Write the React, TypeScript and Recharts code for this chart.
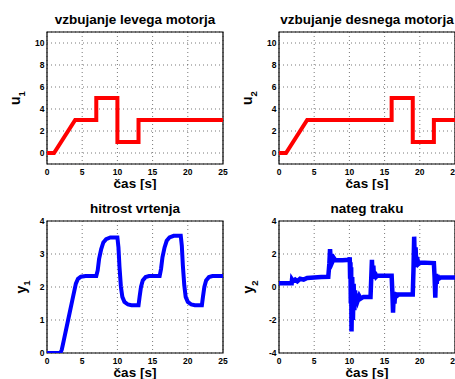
import { LineChart, Line, XAxis, YAxis, CartesianGrid, ReferenceArea } from 'recharts';

// Input u1 (left motor)
const u1Time = [0, 1, 4, 7, 7, 10, 10, 13, 13, 25];
const u1Val = [0, 0, 3, 3, 5, 5, 1, 1, 3, 3];

// Input u2 (right motor)
const u2Time = [0, 1, 4, 16, 16, 19, 19, 22, 22, 25];
const u2Val = [0, 0, 3, 3, 5, 5, 1, 1, 3, 3];

// Output y1 (rotation speed)
const y1Time = [
  0, 1.9, 2.1, 2.4, 3.0, 3.6, 4.1, 4.4, 4.8, 5.5, 7.0, 7.2, 7.4, 7.7, 8.0, 8.4, 9.0, 10.0,
  10.15, 10.3, 10.5, 10.7, 11.0, 11.5, 12.0, 13.0, 13.15, 13.35, 13.6, 14.0, 14.5, 16.0,
  16.2, 16.4, 16.7, 17.0, 17.4, 18.0, 19.0, 19.15, 19.3, 19.5, 19.7, 20.0, 20.5, 21.0,
  22.0, 22.15, 22.35, 22.6, 23.0, 23.5, 25.0,
];
const y1Val = [
  0, 0, 0.1, 0.4, 1.0, 1.6, 2.1, 2.25, 2.31, 2.33, 2.33, 2.5, 2.85, 3.15, 3.35, 3.45, 3.5, 3.5,
  3.2, 2.6, 2.0, 1.7, 1.55, 1.47, 1.45, 1.45, 1.7, 2.0, 2.2, 2.3, 2.33, 2.33,
  2.55, 2.9, 3.2, 3.4, 3.5, 3.55, 3.55, 3.25, 2.65, 2.05, 1.7, 1.55, 1.47, 1.45,
  1.45, 1.7, 2.0, 2.2, 2.3, 2.33, 2.33,
];

// Output y2 (belt tension)
const y2Time = [
  0, 1.8, 1.85, 2.0, 2.3, 2.6, 3.0, 3.5, 4.0, 5.0, 6.0, 7.0, 7.15, 7.25, 7.35, 7.45, 7.6, 7.8, 8.0,
  9.0, 10.0, 10.05, 10.1, 10.15, 10.2, 10.25, 10.3, 10.4, 10.5, 10.6, 10.7, 10.8, 10.9, 11.0,
  11.2, 11.4, 11.6, 12.0, 13.0, 13.1, 13.2, 13.3, 13.4, 13.5, 13.6, 13.8, 14.0, 15.0, 16.0,
  16.1, 16.2, 16.3, 16.4, 16.5, 16.7, 17.0, 19.0, 19.1, 19.2, 19.3, 19.4, 19.5, 19.6, 19.8,
  20.0, 22.0, 22.1, 22.2, 22.3, 22.4, 22.5, 22.7, 23.0, 25.0,
];
const y2Val = [
  0.23, 0.23, 0.45, 0.35, 0.45, 0.35, 0.5, 0.45, 0.55, 0.58, 0.6, 0.62, 1.4, 2.3, 1.6, 2.0, 1.55, 1.75, 1.62,
  1.62, 1.65, 1.8, 0.5, 1.5, -1.0, 1.2, -2.7, 0.6, -2.0, 0.2, -1.4, -0.2, -1.0, -0.4,
  -0.8, -0.55, -0.7, -0.6, -0.6, 0.5, 1.65, 0.6, 1.3, 0.5, 0.9, 0.62, 0.7, 0.68, 0.68,
  -0.3, -1.55, -0.3, -1.0, -0.35, -0.55, -0.45, -0.45, 1.0, 3.05, 1.2, 2.4, 1.3, 1.8, 1.4,
  1.48, 1.45, 0.6, -0.65, 0.8, 0.2, 0.7, 0.5, 0.58, 0.58,
];

const xTicks = [0, 5, 10, 15, 20, 25];
const uTicks = [0, 2, 4, 6, 8, 10];
const y1Ticks = [0, 1, 2, 3, 4];
const y2Ticks = [-4, -2, 0, 2, 4];

const zip = (t: number[], v: number[]) => t.map((x, i) => ({ t: x, v: v[i] }));

const FONT = '"Liberation Sans", Arial, Helvetica, sans-serif';
const tickStyle = { fontSize: 8.5, fontWeight: 700, fill: '#000', fontFamily: FONT };

type PanelProps = {
  left: number;
  top: number;
  title: string;
  sym: string;
  sub: string;
  data: { t: number; v: number }[];
  color: string;
  width: number;
  domain: [number, number];
  ticks: number[];
  labelGap: number;
};

const Panel = ({ left, top, title, sym, sub, data, color, width, domain, ticks, labelGap }: PanelProps) => {
  const titleContent = (props: any) => {
    const vb = props.viewBox;
    return (
      <text x={vb.x + vb.width / 2} y={vb.y - 8.5} textAnchor="middle"
        style={{ fontSize: 13.5, fontWeight: 700, fontFamily: FONT, fill: '#000' }}>
        {title}
      </text>
    );
  };
  const xLabel = (props: any) => {
    const vb = props.viewBox;
    return (
      <text x={vb.x + vb.width / 2} y={vb.y + 24} textAnchor="middle"
        style={{ fontSize: 13.5, fontWeight: 700, fontFamily: FONT, fill: '#000' }}>
        čas [s]
      </text>
    );
  };
  const yLabel = (props: any) => {
    const vb = props.viewBox;
    const x = vb.x + vb.width - labelGap;
    const y = vb.y + vb.height / 2;
    return (
      <text transform={`translate(${x},${y}) rotate(-90)`} textAnchor="middle"
        style={{ fontSize: 14, fontWeight: 700, fontFamily: FONT, fill: '#000' }}>
        {sym}
        <tspan dy={4.5} style={{ fontSize: 9.5 }}>{sub}</tspan>
      </text>
    );
  };

  return (
    <div style={{ position: 'absolute', left, top }}>
      <LineChart width={230} height={190} data={data}
        margin={{ top: 32, right: 230 - 47 - 176, left: 0, bottom: 0 }}>
        <CartesianGrid stroke="#555" strokeDasharray="1 3" strokeWidth={0.8} />
        <XAxis dataKey="t" type="number" domain={[0, 25]} ticks={xTicks} height={26}
          axisLine={false} tickLine={false} tickSize={0} tickMargin={5}
          tick={tickStyle} interval={0} label={{ content: xLabel }} />
        <YAxis type="number" domain={domain} ticks={ticks} width={47} allowDataOverflow
          axisLine={false} tickLine={false} tickSize={0} tickMargin={2.5}
          tick={tickStyle} interval={0} label={{ content: yLabel }} />
        <ReferenceArea x1={0} x2={25} y1={domain[0]} y2={domain[1]} fill="none"
          stroke="#000" strokeWidth={1.2} fillOpacity={0} label={{ content: titleContent }} />
        <Line type="linear" dataKey="v" stroke={color} strokeWidth={width} dot={false}
          isAnimationActive={false} strokeLinejoin="miter" />
      </LineChart>
    </div>
  );
};

export default function App() {
  return (
    <div style={{ position: 'absolute', left: 0, top: 0, width: 455, height: 379, overflow: 'hidden', background: '#fff' }}>
      <Panel left={0} top={0} title="vzbujanje levega motorja" sym="u" sub="1"
        data={zip(u1Time, u1Val)} color="#ff0000" width={4} domain={[-1, 11]} ticks={uTicks} labelGap={27} />
      <Panel left={232} top={0} title="vzbujanje desnega motorja" sym="u" sub="2"
        data={zip(u2Time, u2Val)} color="#ff0000" width={4} domain={[-1, 11]} ticks={uTicks} labelGap={27} />
      <Panel left={0} top={188.5} title="hitrost vrtenja" sym="y" sub="1"
        data={zip(y1Time, y1Val)} color="#0000ff" width={4} domain={[0, 4]} ticks={y1Ticks} labelGap={21.5} />
      <Panel left={232} top={188.5} title="nateg traku" sym="y" sub="2"
        data={zip(y2Time, y2Val)} color="#0000ff" width={4.5} domain={[-4, 4]} ticks={y2Ticks} labelGap={26} />
    </div>
  );
}
